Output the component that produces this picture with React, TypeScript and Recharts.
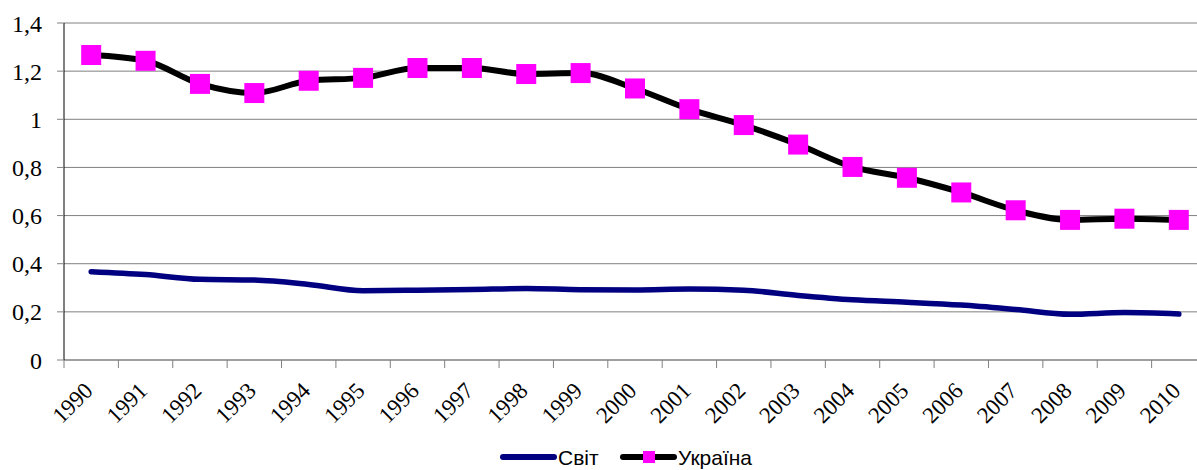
import React from "react";
import { LineChart, Line, XAxis, YAxis, CartesianGrid, Legend } from "recharts";

const years = ["1990","1991","1992","1993","1994","1995","1996","1997","1998","1999","2000","2001","2002","2003","2004","2005","2006","2007","2008","2009","2010"];
const world = [0.367,0.355,0.335,0.332,0.314,0.288,0.290,0.293,0.297,0.292,0.291,0.295,0.290,0.268,0.250,0.240,0.228,0.210,0.190,0.197,0.191];
const ukraine = [1.267,1.243,1.147,1.109,1.160,1.172,1.213,1.213,1.188,1.192,1.128,1.042,0.976,0.895,0.802,0.757,0.696,0.622,0.582,0.587,0.582];
const yTicks = [0, 0.2, 0.4, 0.6, 0.8, 1, 1.2, 1.4];
const seriesNames = { world: "Світ", ukraine: "Україна" };

const data = years.map((y, i) => ({ year: y, world: world[i], ukraine: ukraine[i] }));

const CHART_W = 1210;
const CHART_H = 470;
const M = { top: 23, right: 4, left: 0, bottom: 0 };
const Y_W = 64;
const BAND = (CHART_W - M.left - M.right - Y_W) / years.length;

const XTick = (props: any) => {
  const { x, y, payload, index } = props;
  const half = BAND / 2;
  return (
    <g>
      <line x1={x - half} x2={x - half} y1={y} y2={y + 8} stroke="#808080" strokeWidth={1} />
      {index === years.length - 1 ? (
        <line x1={x + half} x2={x + half} y1={y} y2={y + 8} stroke="#808080" strokeWidth={1} />
      ) : null}
      <text
        transform={`translate(${x + 3},${y + 32}) rotate(-45)`}
        textAnchor="end"
        fontFamily="'Liberation Serif', serif"
        fontSize={23}
        fill="#000"
      >
        {payload.value}
      </text>
    </g>
  );
};

const Square = (props: any) => {
  const { cx, cy } = props;
  if (cx == null || cy == null) return null;
  return <rect x={cx - 10} y={cy - 10} width={20} height={20} fill="#FF00FF" />;
};

const LegendContent = () => (
  <div style={{ height: 30, position: "relative", width: 1197 }}>
    <svg width={1197} height={30} style={{ position: "absolute", left: 0, top: 0, overflow: "visible" }}>
      <line x1={503} x2={554} y1={17} y2={17} stroke="#000080" strokeWidth={6} strokeLinecap="round" />
      <text x={558} y={25} fontFamily="'Liberation Sans', Arial, sans-serif" fontSize={21} fill="#000">
        {seriesNames.world}
      </text>
      <line x1={623} x2={674} y1={17} y2={17} stroke="#000" strokeWidth={6} strokeLinecap="round" />
      <rect x={643} y={11} width={12} height={12} fill="#FF00FF" />
      <text x={678} y={25} fontFamily="'Liberation Sans', Arial, sans-serif" fontSize={21} fill="#000">
        {seriesNames.ukraine}
      </text>
    </svg>
  </div>
);

export default function App() {
  return (
    <div style={{ position: "absolute", left: 0, top: 0, width: 1197, height: 470, overflow: "hidden", background: "#fff" }}>
      <LineChart width={CHART_W} height={CHART_H} data={data} margin={M}>
        <CartesianGrid vertical={false} stroke="#808080" strokeWidth={1} />
        <XAxis
          dataKey="year"
          height={80}
          interval={0}
          padding={{ left: BAND / 2, right: BAND / 2 }}
          tickLine={false}
          tickSize={0}
          tickMargin={0}
          axisLine={{ stroke: "#808080", strokeWidth: 1 }}
          tick={<XTick />}
        />
        <YAxis
          width={Y_W}
          domain={[0, 1.4]}
          ticks={yTicks}
          interval={0}
          tickSize={7}
          tickMargin={15}
          tickLine={{ stroke: "#808080" }}
          axisLine={{ stroke: "#000", strokeWidth: 1 }}
          tickFormatter={(v: number) => String(v).replace(".", ",")}
          tick={{ fill: "#000", fontFamily: "'Liberation Serif', serif", fontSize: 24 }}
        />
        <Legend
          verticalAlign="bottom"
          height={30}
          wrapperStyle={{ left: 0, width: 1197 }}
          content={<LegendContent />}
        />
        <Line
          type="monotone"
          dataKey="world"
          name={seriesNames.world}
          stroke="#000080"
          strokeWidth={5.5}
          strokeLinecap="round"
          dot={false}
          isAnimationActive={false}
        />
        <Line
          type="monotone"
          dataKey="ukraine"
          name={seriesNames.ukraine}
          stroke="#000"
          strokeWidth={6}
          dot={<Square />}
          activeDot={false}
          isAnimationActive={false}
        />
      </LineChart>
    </div>
  );
}
